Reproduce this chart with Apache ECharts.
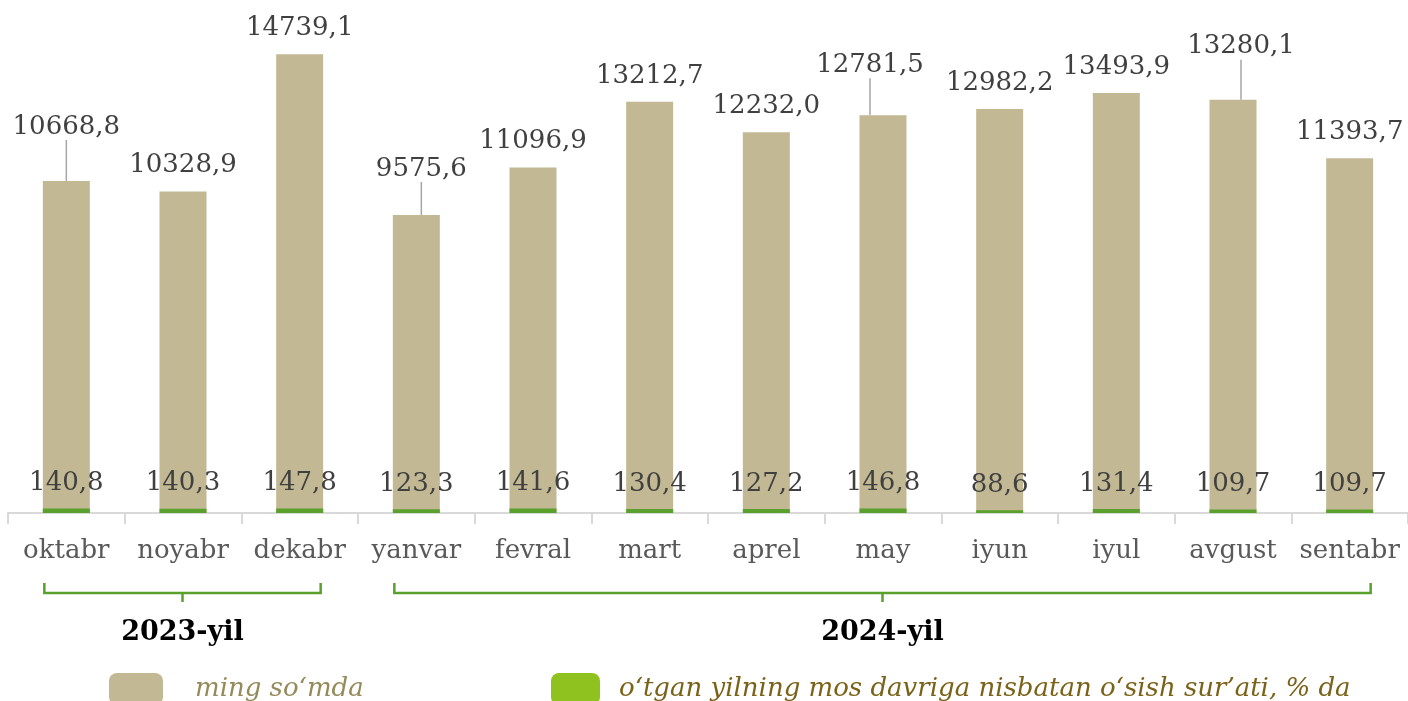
<!DOCTYPE html>
<html>
<head>
<meta charset="utf-8">
<script src="https://cdn.jsdelivr.net/npm/echarts@6/dist/echarts.min.js"></script>
<style>
  html, body { margin: 0; padding: 0; background: #fff; }
  #chart { width: 1408px; height: 701px; }
</style>
</head>
<body>
<div id="chart"></div>
<script>
const months = ['oktabr', 'noyabr', 'dekabr', 'yanvar', 'fevral', 'mart', 'aprel', 'may', 'iyun', 'iyul', 'avgust', 'sentabr'];
const amount = [10668.8, 10328.9, 14739.1, 9575.6, 11096.9, 13212.7, 12232.0, 12781.5, 12982.2, 13493.9, 13280.1, 11393.7];
const growth = [140.8, 140.3, 147.8, 123.3, 141.6, 130.4, 127.2, 146.8, 88.6, 131.4, 109.7, 109.7];
const years = ['2023-yil', '2024-yil'];
const yearSpans = [[0, 2], [3, 11]];
const amountName = 'ming so‘mda';
const growthName = 'o‘tgan yilning mos davriga nisbatan o‘sish sur’ati, % da';

// labels Excel moved by hand, with a leader line
const labelNudge = { 0: [0, -28], 3: [5, -20], 7: [-13, -24], 10: [8, -27] };

const FONT = '"DejaVu Serif", serif';
const fmt = (v) => v.toFixed(1).replace('.', ',');

const chart = echarts.init(document.getElementById('chart'));

const amountData = amount.map((v, i) => ({
  value: v,
  labelLine: { show: !!labelNudge[i] }
}));

const option = {
  animation: false,
  grid: { left: 8, right: 0, top: 15, bottom: 188 },
  xAxis: {
    type: 'category',
    data: months,
    axisLine: { lineStyle: { color: '#d9d9d9', width: 2 } },
    axisTick: { show: true, length: 11, lineStyle: { color: '#d9d9d9', width: 2 } },
    axisLabel: { color: '#595959', fontFamily: FONT, fontSize: 26, margin: 25, interval: 0 }
  },
  yAxis: { type: 'value', min: 0, max: 16000, show: false, splitLine: { show: false } },
  legend: [
    {
      left: 104, top: 668, itemWidth: 54, itemHeight: 32, icon: 'roundRect',
      data: [{ name: amountName }],
      textStyle: { fontFamily: FONT, fontSize: 26, fontStyle: 'italic', color: '#958a5a', padding: [0, 0, 0, 27] }
    },
    {
      left: 546, top: 668, itemWidth: 49, itemHeight: 32, icon: 'roundRect',
      data: [{ name: growthName, itemStyle: { color: '#8fc21f' } }],
      textStyle: { fontFamily: FONT, fontSize: 26, fontStyle: 'italic', color: '#7a6218', padding: [0, 0, 0, 14] }
    }
  ],
  series: [
    {
      name: amountName,
      type: 'bar',
      data: amountData,
      barWidth: 47,
      itemStyle: { color: '#c2b994' },
      label: {
        show: true, position: 'top', distance: 13,
        color: '#404040', fontFamily: FONT, fontSize: 26,
        formatter: (p) => fmt(p.value)
      },
      labelLine: { lineStyle: { color: '#a6a6a6', width: 1.5 } },
      labelLayout: (p) => {
        const n = labelNudge[p.dataIndex];
        return n ? { dx: n[0], dy: n[1] } : {};
      }
    },
    {
      name: growthName,
      type: 'bar',
      data: growth,
      barWidth: 47,
      barGap: '-100%',
      itemStyle: { color: '#5aa02c' },
      label: {
        show: true, position: 'top', distance: 12,
        color: '#404040', fontFamily: FONT, fontSize: 26,
        formatter: (p) => fmt(p.value)
      }
    }
  ]
};

chart.setOption(option);

// year brackets under the axis
const green = '#5aa02c';
const graphics = [];
yearSpans.forEach((span, i) => {
  const x0 = chart.convertToPixel({ xAxisIndex: 0 }, span[0]) - 22;
  const x1 = chart.convertToPixel({ xAxisIndex: 0 }, span[1]) + 21;
  const mid = (x0 + x1) / 2;
  const y = 593;
  graphics.push({
    type: 'polyline',
    shape: { points: [[x0, y - 10], [x0, y], [x1, y], [x1, y - 10]] },
    style: { stroke: green, lineWidth: 2.5, fill: null }
  });
  graphics.push({
    type: 'line',
    shape: { x1: mid, y1: y, x2: mid, y2: y + 9 },
    style: { stroke: green, lineWidth: 2.5 }
  });
  graphics.push({
    type: 'text',
    x: mid, y: 633,
    style: {
      text: years[i], fill: '#000', font: 'bold 27px ' + FONT,
      align: 'center', verticalAlign: 'middle'
    }
  });
});
chart.setOption({ graphic: graphics });
</script>
</body>
</html>
